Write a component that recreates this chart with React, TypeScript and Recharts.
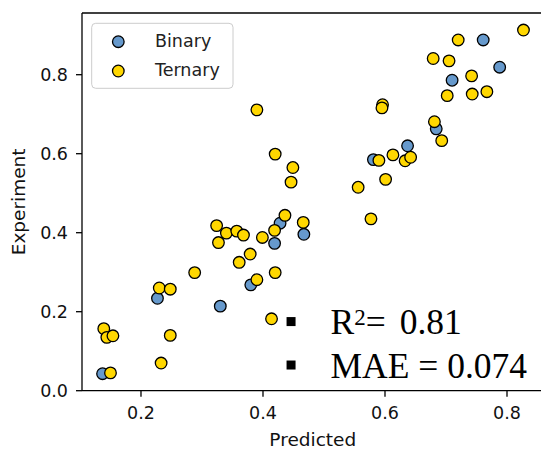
import React from 'react';
import { ScatterChart, Scatter, XAxis, YAxis, ReferenceLine } from 'recharts';

// ---- data ----
const BINARY_PRED = [0.137, 0.227, 0.330, 0.380, 0.419, 0.428, 0.467, 0.581, 0.637, 0.684, 0.710, 0.761, 0.788];
const BINARY_EXP = [0.043, 0.234, 0.214, 0.268, 0.373, 0.424, 0.396, 0.585, 0.620, 0.663, 0.786, 0.888, 0.819];

const TERNARY_PRED = [
  0.139, 0.144, 0.154, 0.150, 0.233, 0.248, 0.230, 0.248, 0.288, 0.324,
  0.327, 0.340, 0.357, 0.368, 0.399, 0.419, 0.436, 0.466, 0.361, 0.379,
  0.390, 0.420, 0.414, 0.390, 0.420, 0.449, 0.446, 0.556, 0.577, 0.601,
  0.590, 0.613, 0.633, 0.642, 0.596, 0.595, 0.681, 0.693, 0.702, 0.743,
  0.767, 0.742, 0.679, 0.705, 0.720, 0.827,
];
const TERNARY_EXP = [
  0.157, 0.135, 0.139, 0.045, 0.070, 0.140, 0.260, 0.257, 0.299, 0.418,
  0.375, 0.399, 0.404, 0.394, 0.388, 0.406, 0.444, 0.426, 0.325, 0.346,
  0.281, 0.299, 0.182, 0.711, 0.599, 0.565, 0.528, 0.515, 0.435, 0.535,
  0.583, 0.597, 0.582, 0.591, 0.724, 0.716, 0.681, 0.633, 0.747, 0.751,
  0.757, 0.797, 0.841, 0.835, 0.888, 0.913,
];

const SERIES_NAMES = ['Binary', 'Ternary'];
const X_TICKS = [0.2, 0.4, 0.6, 0.8];
const Y_TICKS = [0.0, 0.2, 0.4, 0.6, 0.8];

const STAT_X = [0.446, 0.446];
const STAT_Y = [0.175, 0.065];
const STAT_NAMES = ['R', 'MAE'];
const STAT_SUPS = ['2', ''];
const STAT_VALUES = ['0.81', '0.074'];

// ---- layout ----
const X_MIN = 0.1033;
const X_MAX = 0.86;
const Y_MIN = 0;
const Y_MAX = 0.9562;

const BLUE = '#6699cc';
const GOLD = '#ffd700';
const SANS = '"DejaVu Sans", sans-serif';
const SERIF = '"Liberation Serif", "DejaVu Serif", serif';

const binaryData = BINARY_PRED.map((x, i) => ({ x, y: BINARY_EXP[i] }));
const ternaryData = TERNARY_PRED.map((x, i) => ({ x, y: TERNARY_EXP[i] }));
const statData = STAT_X.map((x, i) => ({ x, y: STAT_Y[i], name: STAT_NAMES[i], sup: STAT_SUPS[i], value: STAT_VALUES[i] }));

const makeDot = (fill: string) => (props: any) => {
  const { cx, cy } = props;
  if (cx == null || cy == null) return <g />;
  return <circle cx={cx} cy={cy} r={5.8} fill={fill} stroke="#000" strokeWidth={1.3} />;
};

const StatShape = (props: any) => {
  const { cx, cy, payload } = props;
  if (cx == null || cy == null) return <g />;
  return (
    <g>
      <rect x={cx - 4.5} y={cy - 4.5} width={9} height={9} fill="#000" />
      <text x={cx + 39.5} y={cy + 12.8} fontFamily={SERIF} fontSize={35.5} fill="#000">
        <tspan>{payload.name}</tspan>
        {payload.sup ? (
          <>
            <tspan dy={-9} fontSize={23}>{payload.sup}</tspan>
            <tspan dy={9}>{'= '}</tspan>
            <tspan dx={5}>{payload.value}</tspan>
          </>
        ) : (
          <tspan>{' = ' + payload.value}</tspan>
        )}
      </text>
    </g>
  );
};

const tickStyle = { fontSize: 17.5, fontFamily: SANS, fill: '#111' };
const axisStroke = { stroke: '#000', strokeWidth: 1.3 };

export default function App() {
  return (
    <div style={{ position: 'absolute', left: 0, top: 0, width: 541, height: 449, overflow: 'hidden', background: '#fff' }}>
      <ScatterChart
        width={560}
        height={449}
        margin={{ top: 13, right: 16.4, left: 0, bottom: 0 }}
      >
        <XAxis
          type="number"
          dataKey="x"
          domain={[X_MIN, X_MAX]}
          ticks={X_TICKS}
          allowDataOverflow
          tickFormatter={(v: number) => v.toFixed(1)}
          tick={tickStyle}
          tickSize={6}
          tickMargin={10}
          axisLine={axisStroke}
          tickLine={axisStroke}
          height={58.3}
          label={{ value: 'Predicted', position: 'insideBottom', offset: 3, style: { fontSize: 18.5, fontFamily: SANS, fill: '#111' } }}
        />
        <YAxis
          type="number"
          dataKey="y"
          domain={[Y_MIN, Y_MAX]}
          ticks={Y_TICKS}
          allowDataOverflow
          tickFormatter={(v: number) => v.toFixed(1)}
          tick={tickStyle}
          tickSize={6}
          tickMargin={8}
          axisLine={axisStroke}
          tickLine={axisStroke}
          width={82}
          label={{ value: 'Experiment', position: 'insideLeft', angle: -90, offset: 18.3, style: { textAnchor: 'middle', fontSize: 18.5, fontFamily: SANS, fill: '#111' } }}
        />
        <ReferenceLine y={Y_MAX} stroke="#000" strokeWidth={1.3} />
        <Scatter name={SERIES_NAMES[0]} data={binaryData} shape={makeDot(BLUE)} isAnimationActive={false} />
        <Scatter name={SERIES_NAMES[1]} data={ternaryData} shape={makeDot(GOLD)} isAnimationActive={false} />
        <Scatter name="stats" data={statData} shape={StatShape} isAnimationActive={false} />
      </ScatterChart>
      <svg width={541} height={449} style={{ position: 'absolute', left: 0, top: 0, pointerEvents: 'none' }}>
        <rect x={91.7} y={23.3} width={141.3} height={65} rx={4} fill="#fff" fillOpacity={0.8} stroke="#cccccc" strokeWidth={1} />
        <circle cx={118.3} cy={41.7} r={5.8} fill={BLUE} stroke="#000" strokeWidth={1.3} />
        <circle cx={118.3} cy={71} r={5.8} fill={GOLD} stroke="#000" strokeWidth={1.3} />
        <text x={155} y={46.9} fontFamily={SANS} fontSize={17.5} fill="#222">{SERIES_NAMES[0]}</text>
        <text x={155} y={76.2} fontFamily={SANS} fontSize={17.5} fill="#222">{SERIES_NAMES[1]}</text>
      </svg>
    </div>
  );
}
